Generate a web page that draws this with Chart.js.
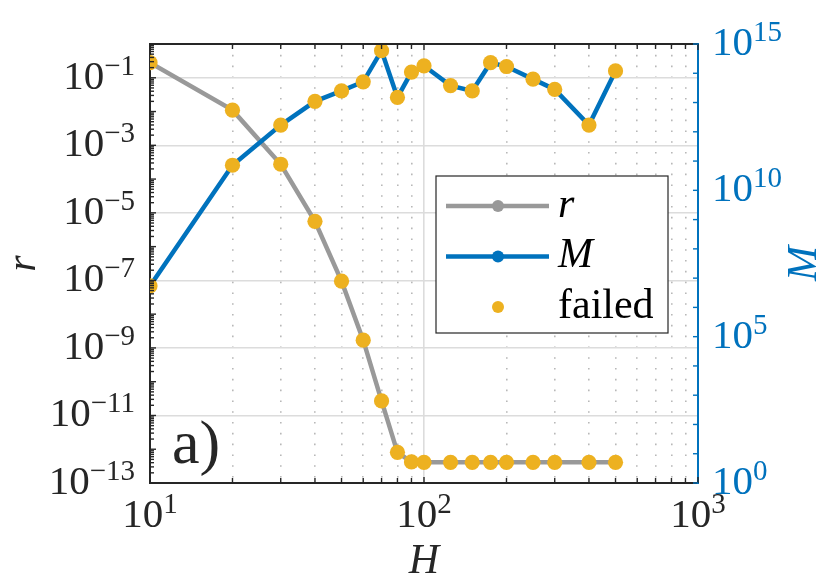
<!DOCTYPE html>
<html>
<head>
<meta charset="utf-8">
<script src="https://cdn.jsdelivr.net/npm/chart.js@4.4.0/dist/chart.umd.min.js"></script>
<style>
  html, body { margin: 0; padding: 0; background: #fff; }
  #wrap { width: 830px; height: 587px; }
</style>
</head>
<body>
<div id="wrap"><canvas id="chart"></canvas></div>
<script>
// =======================
// Data
// =======================
const H = [10, 20, 30, 40, 50, 60, 70, 80, 90, 100, 125, 150, 175, 200, 250, 300, 400, 500];
const rValues = [
    0.28, 1.1e-2, 2.75e-4, 5.6e-6, 9.5e-8, 1.7e-9, 2.7e-11, 8.1e-13, 4.2e-13,
    4.1e-13, 4.1e-13, 4.1e-13, 4.1e-13, 4.1e-13, 4.1e-13, 4.1e-13, 4.1e-13, 4.1e-13
];
const mValues = [
    5.4e6, 7.2e10, 1.7e12, 1.1e13, 2.5e13, 5.1e13, 5.9e14, 1.5e13, 1.1e14,
    1.8e14, 3.8e13, 2.5e13, 2.3e14, 1.7e14, 6.3e13, 2.8e13, 1.7e12, 1.2e14
];
// every run is marked as failed
const failedH = H;
const failedR = rValues;
const failedM = mValues;

// tick labels (powers of ten)
const xTickExps = [1, 2, 3];
const rTickExps = [-13, -11, -9, -7, -5, -3, -1];
const mTickExps = [0, 5, 10, 15];

const SERIF = '"Liberation Serif", "DejaVu Serif", serif';
const GRAY = '#999999';
const BLUE = '#0072BD';
const YELLOW = '#EDB120';

const toPoints = (xs, ys) => xs.map((x, i) => ({ x: x, y: ys[i] }));
const isPow10 = v => Math.abs(Math.log10(v) - Math.round(Math.log10(v))) < 1e-9;

// 1..9 x 10^e ticks between two decades
function decadeTicks(eLo, eHi, withMinor) {
    const out = [];
    for (let e = eLo; e < eHi; e++) {
        if (withMinor) {
            for (let s = 1; s <= 9; s++) out.push(s * Math.pow(10, e));
        } else {
            out.push(Math.pow(10, e));
        }
    }
    out.push(Math.pow(10, eHi));
    return out;
}

function setTicks(values) {
    return scale => { scale.ticks = values.map(v => ({ value: v })); };
}

function drawPow(ctx, exp, x, y, align, color) {
    const e = exp < 0 ? '\u2212' + (-exp) : String(exp);
    ctx.font = '41px ' + SERIF;
    const wb = ctx.measureText('10').width;
    ctx.font = '29px ' + SERIF;
    const we = ctx.measureText(e).width;
    let x0 = x;
    if (align === 'right') x0 = x - wb - we;
    if (align === 'center') x0 = x - (wb + we) / 2;
    ctx.fillStyle = color;
    ctx.textAlign = 'left';
    ctx.textBaseline = 'alphabetic';
    ctx.font = '41px ' + SERIF;
    ctx.fillText('10', x0, y);
    ctx.font = '29px ' + SERIF;
    ctx.fillText(e, x0 + wb, y - 14);
}

// =======================
// Axes decoration: inward ticks, labels, titles, legend
// =======================
const matlabLook = {
    id: 'matlabLook',
    afterDraw(chart) {
        const ctx = chart.ctx;
        const a = chart.chartArea;
        const x = chart.scales.x, yL = chart.scales.yL, yR = chart.scales.yR;
        ctx.save();

        // top box line
        ctx.strokeStyle = '#262626';
        ctx.lineWidth = 2;
        ctx.beginPath();
        ctx.moveTo(a.left, a.top);
        ctx.lineTo(a.right, a.top);
        ctx.stroke();

        // x ticks, bottom and top
        ctx.lineWidth = 1.4;
        x.ticks.forEach(t => {
            const px = x.getPixelForValue(t.value);
            const len = isPow10(t.value) ? 6 : 5;
            ctx.beginPath();
            ctx.moveTo(px, a.bottom); ctx.lineTo(px, a.bottom - len);
            ctx.moveTo(px, a.top); ctx.lineTo(px, a.top + len);
            ctx.stroke();
        });
        // left ticks
        yL.ticks.forEach(t => {
            const py = yL.getPixelForValue(t.value);
            const len = isPow10(t.value) ? 6 : 4;
            ctx.beginPath();
            ctx.moveTo(a.left, py); ctx.lineTo(a.left + len, py);
            ctx.stroke();
        });
        // right ticks
        ctx.strokeStyle = BLUE;
        yR.ticks.forEach(t => {
            const py = yR.getPixelForValue(t.value);
            ctx.beginPath();
            ctx.moveTo(a.right, py); ctx.lineTo(a.right - 5, py);
            ctx.stroke();
        });

        // tick labels
        xTickExps.forEach(e => drawPow(ctx, e, x.getPixelForValue(Math.pow(10, e)), a.bottom + 44, 'center', '#262626'));
        rTickExps.forEach(e => drawPow(ctx, e, a.left - 15, yL.getPixelForValue(Math.pow(10, e)) + 11, 'right', '#262626'));
        mTickExps.forEach(e => drawPow(ctx, e, a.right + 14, yR.getPixelForValue(Math.pow(10, e)) + 11, 'left', BLUE));

        // axis titles
        const midY = (a.top + a.bottom) / 2;
        ctx.font = 'italic 42px ' + SERIF;
        ctx.textBaseline = 'alphabetic';
        ctx.textAlign = 'center';
        ctx.fillStyle = '#262626';
        ctx.fillText('H', (a.left + a.right) / 2, a.bottom + 90);
        ctx.save();
        ctx.translate(35, midY);
        ctx.rotate(-Math.PI / 2);
        ctx.fillText('r', 0, 0);
        ctx.restore();
        ctx.save();
        ctx.fillStyle = BLUE;
        ctx.translate(816, midY);
        ctx.rotate(-Math.PI / 2);
        ctx.fillText('M', 0, 0);
        ctx.restore();

        // panel tag
        ctx.font = '62px ' + SERIF;
        ctx.textAlign = 'left';
        ctx.fillStyle = '#262626';
        ctx.fillText('a)', a.left + 22, a.bottom - 20);

        // legend box
        const box = { l: 436, t: 176, r: 668, b: 333 };
        ctx.fillStyle = '#ffffff';
        ctx.fillRect(box.l, box.t, box.r - box.l, box.b - box.t);
        ctx.strokeStyle = '#262626';
        ctx.lineWidth = 1.2;
        ctx.strokeRect(box.l, box.t, box.r - box.l, box.b - box.t);
        const entries = chart.data.datasets.filter(d => d.inLegend);
        entries.forEach((d, i) => {
            const cy = 206 + i * 50.5;
            if (d.showLine !== false) {
                ctx.strokeStyle = d.borderColor;
                ctx.lineWidth = d.borderWidth;
                ctx.beginPath();
                ctx.moveTo(446, cy); ctx.lineTo(549, cy);
                ctx.stroke();
            }
            ctx.fillStyle = d.legendDot;
            ctx.beginPath();
            ctx.arc(498, cy, 6, 0, Math.PI * 2);
            ctx.fill();
            ctx.fillStyle = '#000000';
            ctx.font = (d.italic ? 'italic ' : '') + '42px ' + SERIF;
            ctx.fillText(d.label, 558, cy + 10.5);
        });
        ctx.restore();
    }
};

// =======================
// The chart
// =======================
const chartData = {
    datasets: [
        {
            label: 'failed',
            inLegend: true,
            italic: false,
            legendDot: YELLOW,
            data: toPoints(failedH, failedR),
            yAxisID: 'yL',
            showLine: false,
            pointRadius: 7.6,
            pointBackgroundColor: YELLOW,
            pointBorderWidth: 0,
            order: 0
        },
        {
            label: 'failed M',
            data: toPoints(failedH, failedM),
            yAxisID: 'yR',
            showLine: false,
            pointRadius: 7.6,
            pointBackgroundColor: YELLOW,
            pointBorderWidth: 0,
            order: 0
        },
        {
            label: 'r',
            inLegend: true,
            italic: true,
            legendDot: GRAY,
            data: toPoints(H, rValues),
            yAxisID: 'yL',
            borderColor: GRAY,
            borderWidth: 4.5,
            pointRadius: 0,
            order: 2
        },
        {
            label: 'M',
            inLegend: true,
            italic: true,
            legendDot: BLUE,
            data: toPoints(H, mValues),
            yAxisID: 'yR',
            borderColor: BLUE,
            borderWidth: 4.5,
            pointRadius: 0,
            order: 1
        }
    ]
};
// legend order as in the figure: r, M, failed
chartData.datasets.sort((p, q) => (p.label === 'failed') - (q.label === 'failed'));

const gridColor = '#dcdcdc';
const dotColor = '#b8b8b8';

new Chart(document.getElementById('chart'), {
    type: 'line',
    data: chartData,
    plugins: [matlabLook],
    options: {
        responsive: true,
        maintainAspectRatio: false,
        animation: false,
        layout: { padding: { left: 150, right: 132, top: 44, bottom: 104 } },
        plugins: { legend: { display: false }, tooltip: { enabled: false } },
        scales: {
            x: {
                type: 'logarithmic',
                position: 'bottom',
                min: 10,
                max: 1000,
                afterBuildTicks: setTicks(decadeTicks(1, 3, true)),
                afterFit: s => { s.height = 0; },
                ticks: { display: false },
                grid: {
                    drawTicks: false,
                    color: c => isPow10(c.tick.value) ? gridColor : dotColor,
                    lineWidth: 1.6
                },
                border: {
                    display: true,
                    color: '#262626',
                    width: 2,
                    dash: c => (c.tick && isPow10(c.tick.value)) ? [] : [1.6, 9.2]
                }
            },
            yL: {
                type: 'logarithmic',
                position: 'left',
                min: 1e-13,
                max: 1,
                afterBuildTicks: setTicks(decadeTicks(-13, 0, true)),
                afterFit: s => { s.width = 0; },
                ticks: { display: false },
                grid: {
                    drawTicks: false,
                    lineWidth: 1.6,
                    color: c => {
                        const v = c.tick.value;
                        if (!isPow10(v)) return 'rgba(0,0,0,0)';
                        return rTickExps.includes(Math.round(Math.log10(v))) ? gridColor : 'rgba(0,0,0,0)';
                    }
                },
                border: { display: true, color: '#262626', width: 2 }
            },
            yR: {
                type: 'logarithmic',
                position: 'right',
                min: 1,
                max: 1e15,
                afterBuildTicks: setTicks(decadeTicks(0, 15, false)),
                afterFit: s => { s.width = 0; },
                ticks: { display: false },
                grid: { drawTicks: false, drawOnChartArea: false },
                border: { display: true, color: BLUE, width: 2 }
            }
        }
    }
});
</script>
</body>
</html>
